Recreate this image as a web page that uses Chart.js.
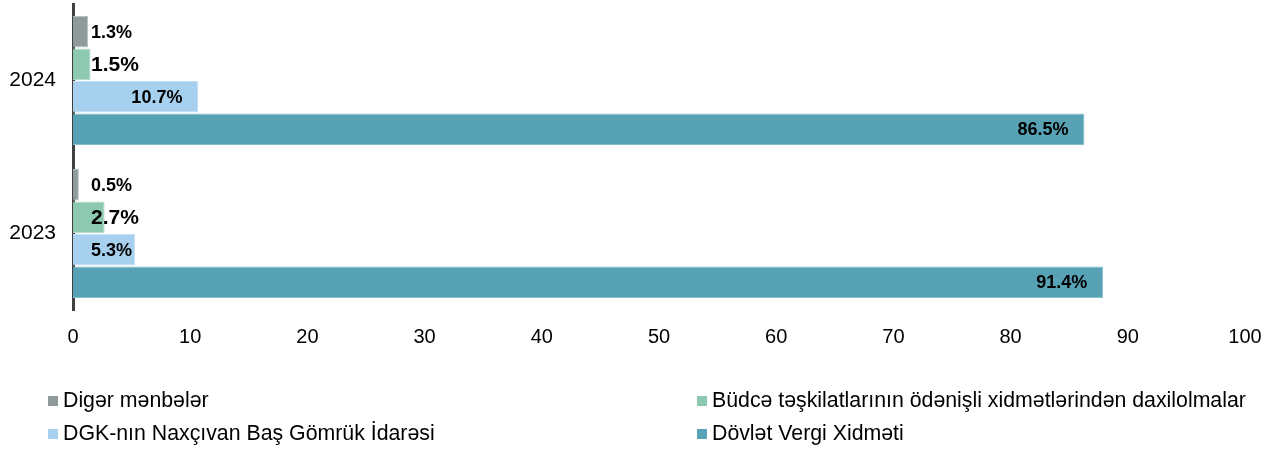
<!DOCTYPE html>
<html>
<head>
<meta charset="utf-8">
<script src="https://cdn.jsdelivr.net/npm/chart.js@4/dist/chart.umd.min.js"></script>
<style>
  html, body { margin: 0; padding: 0; background: #ffffff; }
  #wrap { width: 1271px; height: 450px; position: relative; }
</style>
</head>
<body>
<div id="wrap"><canvas id="c" width="1271" height="450"></canvas></div>
<script>
// ---- data ----
const categories = ['2024', '2023'];
const seriesNames = [
  'Digər mənbələr',
  'Büdcə təşkilatlarının ödənişli xidmətlərindən daxilolmalar',
  'DGK-nın Naxçıvan Baş Gömrük İdarəsi',
  'Dövlət Vergi Xidməti'
];
// bar lengths as drawn in the picture
const otherValues   = [1.3, 0.5];
const budgetValues  = [1.5, 2.7];
const customsValues = [10.7, 5.3];
const taxValues     = [86.3, 87.9];
// data labels as printed
const otherLabels   = ['1.3%', '0.5%'];
const budgetLabels  = ['1.5%', '2.7%'];
const customsLabels = ['10.7%', '5.3%'];
const taxLabels     = ['86.5%', '91.4%'];
const xMin = 0, xMax = 100, xStep = 10;

const colors  = ['#8f9a9b', '#8cc9b0', '#a7d0ef', '#57a2b5'];
const borders = ['#b9c1c2', '#b5ddcc', '#c7e2f6', '#86bfcc'];
const labelFonts = ['bold 18px "Liberation Sans", Arial, sans-serif',
                    'bold 21px "Liberation Sans", Arial, sans-serif',
                    'bold 18px "Liberation Sans", Arial, sans-serif',
                    'bold 18px "Liberation Sans", Arial, sans-serif'];

const valueSets = [otherValues, budgetValues, customsValues, taxValues];
const labelSets = [otherLabels, budgetLabels, customsLabels, taxLabels];

const datasets = seriesNames.map((name, i) => ({
  label: name,
  data: valueSets[i],
  backgroundColor: colors[i],
  borderColor: borders[i],
  borderWidth: 1,
  categoryPercentage: 0.85,
  barPercentage: 0.97,
  valueLabels: labelSets[i],
  labelFont: labelFonts[i]
}));

const labelPlugin = {
  id: 'valueLabels',
  afterDatasetsDraw(chart) {
    const ctx = chart.ctx;
    const left = chart.chartArea.left;
    ctx.save();
    ctx.fillStyle = '#000000';
    ctx.textBaseline = 'middle';
    ctx.textAlign = 'left';
    chart.data.datasets.forEach((ds, di) => {
      const meta = chart.getDatasetMeta(di);
      ctx.font = ds.labelFont;
      meta.data.forEach((bar, j) => {
        const txt = ds.valueLabels[j];
        const w = ctx.measureText(txt).width;
        const x = Math.max(left + 18, bar.x - 16 - w);
        ctx.fillText(txt, x, bar.y + 1);
      });
    });
    ctx.restore();
  }
};

const legendPlugin = {
  id: 'gridLegend',
  afterDraw(chart) {
    const ctx = chart.ctx;
    const colX = [48, 697];
    const rowY = [401, 434];
    ctx.save();
    ctx.font = '21.3px "Liberation Sans", Arial, sans-serif';
    ctx.textBaseline = 'middle';
    ctx.textAlign = 'left';
    chart.data.datasets.forEach((ds, i) => {
      const x = colX[i % 2];
      const y = rowY[Math.floor(i / 2)];
      ctx.fillStyle = ds.backgroundColor;
      ctx.fillRect(x, y - 5, 10, 10);
      ctx.fillStyle = '#000000';
      ctx.fillText(ds.label, x + 15, y);
    });
    ctx.restore();
  }
};

new Chart(document.getElementById('c'), {
  type: 'bar',
  data: { labels: categories, datasets },
  options: {
    indexAxis: 'y',
    responsive: false,
    animation: false,
    events: [],
    layout: { padding: { top: 4, right: 26, left: 0, bottom: 0 } },
    plugins: { legend: { display: false }, tooltip: { enabled: false } },
    scales: {
      x: {
        min: xMin, max: xMax,
        ticks: { stepSize: xStep, color: '#000000', padding: 7,
                 font: { family: '"Liberation Sans", Arial, sans-serif', size: 20 } },
        grid: { display: false },
        border: { display: false },
        afterFit: s => { s.height = 140; s.paddingLeft = 0; s.paddingRight = 0; }
      },
      y: {
        ticks: { color: '#000000', padding: 17,
                 font: { family: '"Liberation Sans", Arial, sans-serif', size: 21 } },
        grid: { display: true, color: 'rgba(0,0,0,0)', drawTicks: false },
        border: { display: true, color: '#404040', width: 3 },
        afterFit: s => { s.width = 73; s.paddingTop = 0; s.paddingBottom = 0; }
      }
    }
  },
  plugins: [labelPlugin, legendPlugin]
});
</script>
</body>
</html>
